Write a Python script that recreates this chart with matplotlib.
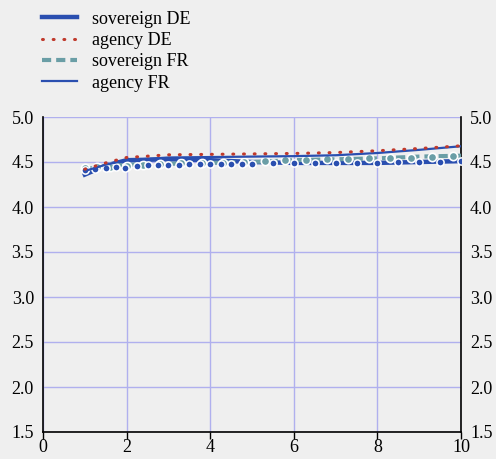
import matplotlib
matplotlib.use("Agg")
import matplotlib.pyplot as plt
import numpy as np

plt.rcParams['font.family'] = ['Liberation Serif', 'DejaVu Serif']

# maturities (years) for curves
x_curve = [1, 1.5, 2, 3, 4, 5, 6, 7, 8, 9, 10]
sovereign_de = [4.36, 4.46, 4.52, 4.53, 4.52, 4.50, 4.49, 4.49, 4.49, 4.50, 4.51]
agency_de = [4.42, 4.49, 4.55, 4.58, 4.585, 4.59, 4.595, 4.605, 4.625, 4.65, 4.68]
sovereign_fr = [4.42, 4.45, 4.47, 4.48, 4.49, 4.50, 4.52, 4.53, 4.54, 4.56, 4.57]
agency_fr = [4.40, 4.47, 4.52, 4.55, 4.555, 4.56, 4.565, 4.575, 4.60, 4.635, 4.675]

# observed points
fr_pts_x = [1.0, 1.3, 1.6, 2.0, 2.4, 2.8, 3.3, 3.8, 4.3, 4.8, 5.3, 5.8, 6.3, 6.8, 7.3, 7.8, 8.3, 8.8, 9.3, 9.8]
fr_pts_y = [4.43, 4.44, 4.45, 4.46, 4.47, 4.48, 4.485, 4.49, 4.49, 4.50, 4.51, 4.52, 4.52, 4.53, 4.53, 4.54, 4.55, 4.55, 4.56, 4.57]
de_pts_x = [1.0, 1.25, 1.5, 1.75, 1.95, 2.25, 2.5, 2.75, 3.0, 3.25, 3.5, 3.75, 4.0, 4.25, 4.5, 4.75, 5.0, 5.5, 6.0, 6.5, 7.0, 7.5, 8.0, 8.5, 9.0, 9.5, 10.0]
de_pts_y = [4.41, 4.42, 4.43, 4.44, 4.43, 4.46, 4.47, 4.47, 4.47, 4.47, 4.48, 4.48, 4.48, 4.48, 4.48, 4.48, 4.48, 4.49, 4.49, 4.49, 4.49, 4.49, 4.49, 4.50, 4.50, 4.50, 4.51]

xticks = [0, 2, 4, 6, 8, 10]
yticks = [1.5, 2.0, 2.5, 3.0, 3.5, 4.0, 4.5, 5.0]

bg = '#efefef'
blue = '#2a4fb0'
red = '#c0392b'
teal = '#6a9ea6'
grid = '#b0b0ee'

fig = plt.figure(figsize=(4.96, 4.59), dpi=100, facecolor=bg)
ax = fig.add_axes([43/496, 27/459, (461-43)/496, (432-117)/459], facecolor=bg)

l1, = ax.plot(x_curve, sovereign_de, color=blue, lw=3.2, label='sovereign DE', zorder=3)
l3, = ax.plot(x_curve, sovereign_fr, color=teal, lw=3.0, dashes=(2.2, 1.2), label='sovereign FR', zorder=3)
ax.plot(fr_pts_x, fr_pts_y, ls='none', marker='o', ms=6.0, mfc=teal, mec='white', mew=1.2, zorder=4)
ax.plot(de_pts_x, de_pts_y, ls='none', marker='o', ms=5.2, mfc=blue, mec='white', mew=1.1, zorder=5)
l4, = ax.plot(x_curve, agency_fr, color=blue, lw=1.6, label='agency FR', zorder=6)
l2, = ax.plot(x_curve, agency_de, color=red, lw=2.2, dashes=(0.3, 3.2), dash_capstyle='round',
              label='agency DE', zorder=6)

ax.set_xlim(0, 10)
ax.set_ylim(1.5, 5.0)
ax.set_xticks(xticks)
ax.set_yticks(yticks)
ax.set_xticklabels([str(t) for t in xticks])
ax.set_yticklabels([f'{t:.1f}' for t in yticks])
ax.grid(True, color=grid, lw=1.0)
ax.set_axisbelow(True)
ax.tick_params(axis='x', direction='out', length=5, width=1, labelsize=13, pad=0, colors='black')
ax.tick_params(axis='y', length=0, labelsize=13, pad=6.5, left=True, right=True, labelleft=True, labelright=True)
for s in ['left', 'right', 'bottom']:
    ax.spines[s].set_color('black')
    ax.spines[s].set_linewidth(1.2)
ax.spines['top'].set_visible(False)

fig.legend(handles=[l1, l2, l3, l4], loc='upper left', bbox_to_anchor=(0.052, 1.012),
           frameon=False, fontsize=13, handlelength=1.94, handletextpad=0.83, labelspacing=0.24)

fig.savefig('out.png', dpi=100, facecolor=bg)
